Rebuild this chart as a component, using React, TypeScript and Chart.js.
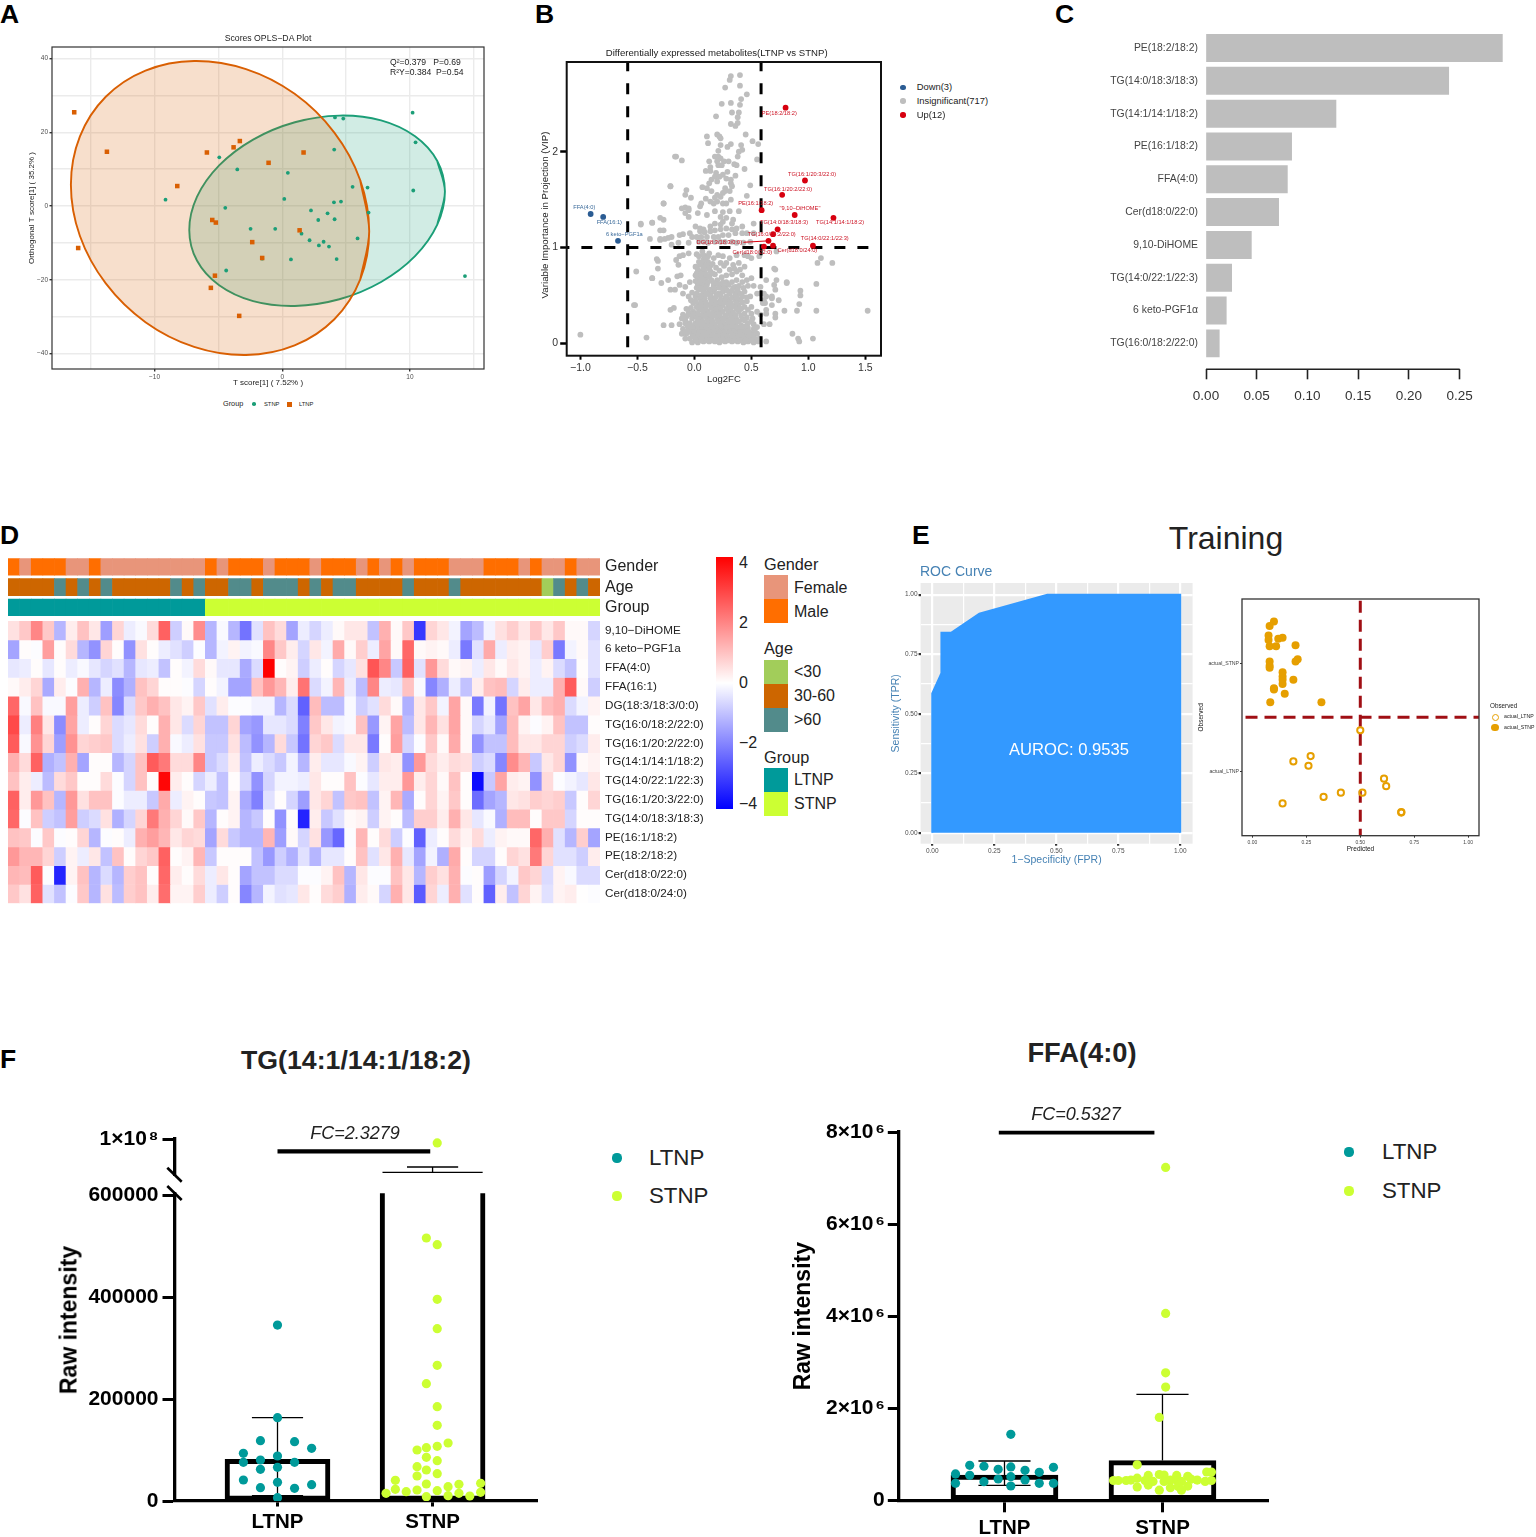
import React, { useEffect, useRef } from "react";
import { Chart, registerables } from "chart.js";

Chart.register(...registerables);
Chart.defaults.font.family = "'Liberation Sans', Arial, sans-serif";

type P = [number, number];
const xy = (a: P[]) => a.map(([x, y]) => ({ x, y }));

/* ---------- Panel A ---------- */
const A_STNP: P[] = [[10.21,25.3],[10.44,17.25],[4.13,24.0],[4.78,23.7],[4.07,15.3],[-4.93,13.2],[-3.52,9.9],[0.44,9.0],[-9.14,1.7],[5.51,5.2],[6.68,5.0],[10.26,4.2],[0.16,1.9],[4.05,1.0],[4.6,1.2],[-4.46,-0.5],[2.25,-1.2],[3.55,-2.0],[6.76,-1.8],[2.82,-3.8],[4.1,-3.6],[-2.48,-6.2],[-0.55,-6.2],[1.51,-7.5],[5.9,-8.8],[2.14,-9.3],[3.24,-9.7],[2.87,-10.7],[3.66,-11.0],[-1.57,-14.3],[0.68,-14.5],[4.26,-14.4],[-4.39,-17.5],[14.31,-19.0]];
const A_LTNP: P[] = [[-16.29,25.4],[-13.73,14.7],[-3.32,17.6],[-3.81,15.9],[-5.9,14.5],[1.67,14.5],[-1.07,11.7],[-8.22,5.4],[-5.48,-3.8],[-5.2,-4.5],[1.36,-6.6],[-2.35,-9.8],[-15.98,-11.4],[-1.57,-14.1],[-5.27,-18.9],[-5.59,-22.2],[-3.37,-29.8]];
const A_LTNP_ELLIPSE: P[] = [[6.11,-19.9],[6.81,-6.85],[6.11,6.98],[4.08,19.9],[.97,30.4],[-2.84,37.1],[-6.9,39.3],[-10.71,36.7],[-13.82,29.6],[-15.85,18.8],[-16.55,5.75],[-15.85,-8.08],[-13.82,-21.0],[-10.71,-31.5],[-6.9,-38.2],[-2.84,-40.4],[.97,-37.8],[4.08,-30.7],[6.11,-19.9],[6.81,-6.85],[6.11,6.98]];
const A_STNP_ELLIPSE: P[] = [[12.14,-5.07],[12.74,3.89],[12.14,12.2],[10.4,18.9],[7.74,23.2],[4.47,24.5],[.99,22.7],[-2.28,18.0],[-4.94,11.0],[-6.68,2.47],[-7.28,-6.49],[-6.68,-14.8],[-4.94,-21.5],[-2.28,-25.8],[.99,-27.1],[4.47,-25.3],[7.74,-20.6],[10.4,-13.6],[12.14,-5.07],[12.74,3.89],[12.14,12.2]];
const A_X_TICKS = [-15,-10,-5,0,5,10,15];
const A_Y_TICKS = [-40,-30,-20,-10,0,10,20,30,40];

/* ---------- Panel B ---------- */
const B_GREY: P[] = [
[.40,2.80],[.32,2.79],[.31,2.75],[.40,2.69],[.27,2.67],[.46,2.60],[.41,2.55],[.24,2.50],[.32,2.51],[.40,2.49],[.39,2.41],[.33,2.41],[.19,2.37],[.38,2.36],[.38,2.30],[.32,2.29],[.36,2.27],[.45,2.18],[.11,2.16],[.20,2.18],[.22,2.16],[.23,2.14],[.12,2.09],[.23,2.07],[.51,2.11],[.56,2.08],[.32,2.08],[.29,2.05],[.41,2.07],[.42,2.02],[.39,2.00],[.21,2.01],[.38,1.95],[-.16,1.95],[-.11,1.91],[.18,1.95],[.21,1.95],[.23,1.93],[.55,1.92],[.13,1.90],[.20,1.90],[.26,1.90],[.30,1.90],[.35,1.87],[.37,1.86],[.21,1.86],[.14,1.84],[.44,1.82],[.10,1.80],[.14,1.80],[.24,1.86],[.19,1.78],[.29,1.79],[.25,1.76],[.36,1.75],[.18,1.74],[.22,1.74],[.15,1.71],[.20,1.69],[.28,1.72],[.32,1.71],[.13,1.67],[-.21,1.64],[.49,1.65],[.07,1.63],[.11,1.62],[.27,1.62],[.32,1.67],[.33,1.64],[-.07,1.60],[.15,1.59],[.27,1.59],[.31,1.59],[-.08,1.55],[-.03,1.52],[.10,1.51],[.20,1.55],[.25,1.57],[.46,1.54],[.18,1.52],[.23,1.53],[.06,1.46],[.14,1.48],[.20,1.48],[.32,1.50],[.17,1.46],[-.27,1.46],[.25,1.46],[.28,1.46],[.05,1.43],[-.08,1.42],[-.05,1.41],
[-.11,1.41],[-.05,1.39],[-.08,1.36],[-.05,1.32],[.03,1.36],[.18,1.38],[.25,1.37],[.31,1.38],[.39,1.38],[.11,1.34],[.23,1.32],[.28,1.31],[.34,1.29],[-.47,1.25],[-.37,1.26],[-.27,1.29],[-.30,1.18],[.52,1.25],[.33,1.25],[.25,1.27],[.23,1.24],[.18,1.25],[.14,1.22],[.08,1.19],[.05,1.20],[.01,1.22],[.05,1.17],[.09,1.16],[.14,1.17],[.18,1.18],[.23,1.19],[.28,1.20],[.33,1.19],[.37,1.20],[.42,1.22],[.46,1.15],[.52,1.15],[-.04,1.15],[-.10,1.14],[-.13,1.13],[-.20,1.11],[-.23,1.10],[-.26,1.09],[-.30,1.09],[-.39,1.09],[-.02,1.11],[.02,1.11],[.06,1.11],[.11,1.11],[.17,1.11],[.21,1.11],[.25,1.13],[.30,1.13],[.36,1.15],[.42,1.15],[.04,1.06],[.08,1.06],[.12,1.05],[.18,1.06],[.23,1.06],[.27,1.06],[.33,1.06],[-.2,1.03],[-.14,1.05],[-.05,1.05],[.37,1.05],[.43,1.05],[.49,1.06],
[-.33,.88],[-.32,.86],[-.13,.91],[-.16,.87],[-.10,.92],[-.14,.82],[-.05,.94],[.04,.91],[.08,.92],[.12,.91],[.04,.85],[.08,.87],[.12,.85],[.17,.89],[.05,.82],[.09,.82],[.14,.81],[.01,.80],[.21,.92],[.25,.91],[.31,.89],[.37,.92],[.44,.92],[.23,.84],[.28,.84],[.34,.82],[.39,.84],[.44,.80],[.50,.89],[.57,.91],[.70,.78],[.47,.91],[-.32,.78],
[-.15,.70],[-.23,.66],[-.29,.63],[-.37,.68],[-.12,.71],[-.13,.61],[-.08,.59],[-.04,.64],[.01,.71],[.05,.75],[.09,.75],[.14,.75],[.18,.72],[.03,.68],[.07,.68],[.11,.69],[.15,.66],[.20,.66],[.24,.69],[.28,.71],[.33,.72],[.37,.75],[.42,.71],[.28,.64],[.33,.64],[.37,.66],[.42,.64],[.46,.66],[.50,.68],[.03,.61],[.07,.61],[.11,.61],[.17,.60],[.23,.61],[.27,.59],[.36,.59],[.52,.60],[.58,.59],[.63,.66],[.70,.61],[.81,.64],
[-.21,.56],[-.17,.56],[-.10,.52],[-.05,.49],[.04,.56],[.08,.54],[.12,.53],[.17,.54],[.21,.52],[.25,.54],[.31,.52],[.36,.52],[.40,.52],[.44,.54],[.49,.49],[.46,.44],[.58,.52],[.63,.49],[.61,.45],[.68,.47],[.01,.49],[.05,.47],[.09,.47],[.14,.47],[.18,.47],[.23,.45],[.27,.47],[.31,.45],[.36,.45],[.40,.46],[-.01,.42],[.04,.41],[.08,.40],[.12,.40],[.17,.40],[.21,.40],[.25,.40],[.30,.40],[.34,.39],[.39,.40],[.44,.38],[.50,.38],[-.18,.37],[-.21,.35],[-.52,.40],[.60,.42],[.68,.40],
[-.05,.32],[-.10,.30],[-.01,.33],[.04,.35],[.08,.33],[.12,.33],[.17,.33],[.21,.33],[.25,.33],[.30,.32],[.34,.32],[.39,.33],[.44,.31],[.50,.31],[.55,.33],[.63,.31],[.71,.31],
[-.11,.26],[-.07,.28],[-.02,.26],[.02,.28],[.06,.27],[.11,.26],[.15,.27],[.20,.26],[.24,.26],[.28,.26],[.33,.26],[.37,.25],[.42,.25],[.58,.30],[-.13,.20],[-.08,.21],[-.04,.21],[.01,.21],[.05,.20],[.09,.20],[.14,.20],[.18,.20],[.23,.20],[.27,.20],[.31,.20],[.36,.20],[.41,.19],[.47,.21],[.52,.20],[.61,.20],[-.27,.19],[-.20,.19],
[-.10,.15],[-.05,.15],[-.01,.15],[.04,.15],[.08,.15],[.12,.15],[.17,.15],[.21,.15],[.25,.15],[.30,.15],[.34,.15],[.39,.14],[.43,.14],[.47,.16],[.52,.15],
[-.11,.10],[-.07,.10],[-.02,.10],[.02,.10],[.06,.10],[.11,.10],[.15,.10],[.20,.10],[.24,.10],[.28,.10],[.33,.10],[.37,.10],[.42,.10],[.46,.10],[.50,.10],[.55,.10],[-.42,.06],
[-.08,.05],[-.04,.05],[.01,.05],[.05,.05],[.09,.05],[.14,.05],[.18,.05],[.23,.05],[.27,.05],[.31,.05],[.36,.05],[.40,.05],[.44,.05],[.49,.05],[.53,.05],[.57,.05],
[-.02,.01],[.03,.01],[.08,.02],[.13,.02],[.18,.02],[.22,.01],[.27,.02],[.33,.02],[.38,.02],[.43,.01],[.47,.02],[.52,.01],[.56,.02],
[-1.0,.09],[-.53,.40],[-.51,.75],[-.37,.68],[-.47,1.24],[-.37,1.26],[-.30,1.31],[-.27,1.46],[-.21,1.64],[-.17,1.95],[-.27,1.18],[-.30,1.08],
[1.52,.34],[1.07,.34],[1.04,.05],[1.08,.84],[1.21,.84],[1.11,.89],[1.07,.62],[.93,.55],[.93,.50],[.92,.41],[.90,.34],[.79,.34],[.71,.27],[.66,.20],[.63,.02],[.86,.10],[.91,.05],[.92,.02],[.81,.63],[.71,.77],[.72,.66],[.72,.96],[.71,.56],[.61,.52],[.68,.49],[.74,.45],[.63,.35],[.62,.42],[.55,.52],
[.02,.93],[.07,.96],[.10,.89],[.13,.94],[.06,.84],[.11,.80],[.03,.77],[.08,.78],[.13,.78],[.16,.83],[.02,.73],[.06,.72],[.10,.72],[.13,.70],[.16,.73],[.19,.79],[.22,.76],[.26,.81],[.31,.77],[.35,.78],[.40,.77],[.01,.65],[.05,.64],[.09,.65],[.12,.64],[.17,.63],[.21,.62],[.25,.64],[.30,.61],[.34,.58],[.39,.60],[.43,.58],[.47,.60],[.02,.58],[.06,.57],[.10,.58],[.14,.56],[.18,.57],[.22,.58],[.26,.57],[.29,.55],[.33,.55],[.38,.56],[.42,.49],[-.02,.53],[.02,.52],[.06,.50],[.10,.51],[.14,.50],[.19,.49],[.23,.50],[.28,.49],[.33,.48],[.37,.48],[.46,.48],[-.03,.45],[.01,.44],[.06,.43],[.10,.43],[.15,.43],[.19,.43],[.23,.42],[.27,.43],[.32,.42],[.37,.42],[.42,.43],[-.07,.36],[-.03,.37],[.02,.38],[.06,.37],[.10,.36],[.15,.37],[.19,.36],[.23,.37],[.28,.36],[.32,.36],[.37,.36],[.41,.36],[.47,.35],[-.08,.24],[-.05,.30],[-.01,.30],[.03,.31],[.07,.30],[.10,.29],[.14,.30],[.18,.29],[.22,.30],[.27,.29],[.32,.29],[.36,.29],[.41,.29],[.46,.27],[.51,.26],[-.06,.18],[-.02,.18],[.03,.24],[.07,.23],[.12,.23],[.16,.23],[.21,.23],[.25,.23],[.30,.23],[.34,.23],[.39,.23],[.44,.24],[.50,.23],[.03,.17],[.07,.17],[.10,.18],[.15,.17],[.19,.17],[.23,.18],[.28,.17],[.33,.18],[.37,.17],[.41,.17],[.45,.18],[.55,.17],[-.08,.12],[-.03,.12],[.00,.12],[.04,.12],[.08,.12],[.13,.12],[.17,.13],[.22,.12],[.26,.12],[.31,.12],[.35,.12],[.40,.12],[.44,.12],[.48,.12],[.53,.13],[-.01,.07],[.03,.07],[.07,.08],[.12,.07],[.16,.08],[.20,.07],[.25,.08],[.29,.07],[.34,.08],[.38,.07],[.42,.08],[.47,.07],[.51,.08],[.02,.03],[.06,.03],[.11,.03],[.15,.03],[.20,.03],[.25,.03],[.30,.03],[.35,.03],[.40,.03],[.45,.03],[.50,.03]
];
const B_UP: P[] = [[.80,2.46],[.97,1.70],[.77,1.55],[.59,1.39],[.88,1.34],[1.22,1.31],[.73,1.19],[.69,1.14],[.65,1.07],[1.04,1.02],[.69,1.02],[.61,1.01]];
const B_DOWN: P[] = [[-.91,1.35],[-.80,1.32],[-.67,1.07]];
const B_DG_LEADER: P[] = [[.43,1.055],[.65,1.07]];
const B_FC_CUT = 0.585;
const B_VIP_CUT = 1;
const B_X_TICKS = [-1,-.5,0,.5,1,1.5];
const B_Y_TICKS = [0,1,2];
const B_UP_LABELS: [string, number, number][] = [
  ["PE(18:2/18:2)",779.3,113.7],["TG(16:1/20:3/22:0)",812,175],["TG(16:1/20:2/22:0)",788,189.7],["PE(16:1/18:2)",755.7,203.7],
  ["\"9,10−DiHOME\"",800,209.3],["TG(14:0/18:3/18:3)",784,223.3],["TG(14:1/14:1/18:2)",840,223.3],["TG(16:0/18:2/22:0)",771.7,234.7],
  ["TG(14:0/22:1/22:3)",824.7,239.3],["DG(18:3/18:3/0:0)",719.3,243],["Cer(d18:0/22:0)",752.3,252.7],["Cer(d18:0/24:0)",797.3,251]];
const B_DOWN_LABELS: [string, number, number][] = [["FFA(4:0)",584.3,207.7],["FFA(16:1)",609.3,223.3],["6 keto−PGF1a",624.3,234.7]];

/* ---------- Panel C ---------- */
const C_NAMES = ["PE(18:2/18:2)","TG(14:0/18:3/18:3)","TG(14:1/14:1/18:2)","PE(16:1/18:2)","FFA(4:0)","Cer(d18:0/22:0)","9,10-DiHOME","TG(14:0/22:1/22:3)","6 keto-PGF1α","TG(16:0/18:2/22:0)"];
const C_VALUES = [.2924,.2392,.1281,.0844,.0802,.0716,.0447,.0253,.02,.0131];
const C_X_TICKS = [0,.05,.1,.15,.2,.25];

/* ---------- Panel D ---------- */
const D_ROWS = ["9,10−DiHOME","6 keto−PGF1a","FFA(4:0)","FFA(16:1)","DG(18:3/18:3/0:0)","TG(16:0/18:2/22:0)","TG(16:1/20:2/22:0)","TG(14:1/14:1/18:2)","TG(14:0/22:1/22:3)","TG(16:1/20:3/22:0)","TG(14:0/18:3/18:3)","PE(16:1/18:2)","PE(18:2/18:2)","Cer(d18:0/22:0)","Cer(d18:0/24:0)"];
const D_GENDER = "MFMMMFFMFFFFFFFFFMFMMMFMMMFMMMFMFMFMMMFFFMMMFMFFMFF".split("");
const D_AGE = "OOOOTOTOTOOOOOTOTOOTTOTTTOTOTTOOOOTOOOTOOOOOOOYTOTO".split("");
const D_GROUP = "LLLLLLLLLLLLLLLLLSSSSSSSSSSSSSSSSSSSSSSSSSSSSSSSSSS".split("");
const D_TRACK_NAMES = ["Gender","Age","Group"];
const D_HEAT: number[][] = [
[.5,.9,2,.9,-1.2,.3,1,.4,-1.6,.7,-.3,-.1,.6,2.6,-.8,.1,1.9,-1.2,-.1,-1.2,-2.3,-.5,1,.6,-1.5,-.3,-.7,-.3,.1,.4,.4,-1,1.3,.1,.9,-3.3,.7,.4,-.2,-1.5,-1.1,-.2,.5,.8,.4,.9,.4,.9,.1,.1,-.7],
[-1.5,.05,-.05,1.6,.05,.6,-1.2,-1.8,.7,.05,-1.8,.5,.05,-.3,-.5,-.8,-.05,-1.2,-.2,.2,-.2,-.1,2,.9,.3,-.7,.4,-.2,1.4,.1,.8,-.3,1.5,.1,2.5,.1,.2,.1,-.3,-2.2,-.5,1.4,-.3,.3,.2,-.4,.8,-2.2,-.2,.1,-.5],
[-.4,-.3,.05,-.4,.05,-.3,-.1,-.4,-.7,-.5,-1.2,-.4,-.3,-1,.05,-.2,.6,.1,-.4,-.4,-1.4,-.6,4.2,.05,.2,-.8,-.3,.05,-.7,-.4,.5,2.8,2,-.9,2.6,-.5,1.7,.6,.1,.2,-.3,.4,.1,.4,.2,-.3,.2,-.6,-1,.05,-.5],
[.1,.3,.7,-1.4,.3,-.05,1.3,-1.2,-.3,-1.9,-1.3,1,.7,.05,.05,-.05,-.7,.05,-.2,-1.5,-1.5,1,1.7,1.2,.3,2.3,-.6,-.2,1.2,-.3,-1.1,2,-.3,-.4,1,-.1,-2,-1.3,-.3,-1,.3,1,1.1,-.7,.3,-.3,-.3,1.3,2.7,.1,-.8],
[2.5,-.1,1,-.1,-.1,1.6,-.3,-.8,1,-2,-.6,.9,1.3,1,.4,.2,.9,-.5,.3,-.05,-.05,-.2,-.2,-1.2,-.6,-2.6,1.1,-1.1,-1.1,-.1,-.8,-.5,.6,.1,-1.3,.4,.9,-.2,1.5,.1,-2.2,-.2,-2.3,1,1.5,.4,1.1,1.3,-.6,-.2,.2],
[3,-.3,2.1,.4,-1.9,1.5,-.3,.05,.7,-.6,-.4,.6,.05,1.3,.4,-.6,.7,-1,-1,.7,-1.5,-1.7,-.4,-.4,-.6,-2.1,.9,.4,-.2,-.1,1,-1.7,.2,1.5,-1.1,.4,1.2,.5,1.5,.1,-.7,-.4,-1.5,1.1,.2,-.05,.2,1,-1,-1,.05],
[2.7,-.1,1.8,.7,-1.6,1.8,.7,.8,.9,-.6,-.3,.5,-.8,1.3,-.1,-.3,.5,-.9,-.9,.5,-1.1,-1.8,-1.2,.6,-.9,-2.3,.7,.9,-.6,.4,.4,-2.2,.05,1.6,-.7,-.05,.9,.1,1.4,.1,-1.8,-1,-1,1.1,.4,.4,.7,.7,-.8,-.6,.3],
[1.3,.6,2.6,-1.3,-1,1.3,-1.5,.05,.05,-1.2,-.7,1,2.7,2.2,.6,.6,2,-.9,-.6,.3,-1,-.3,-.6,-.9,-.2,-1.2,.3,-.4,-.4,-.1,.2,-.8,.4,.3,-1.8,1.7,.6,.3,.6,.5,-.8,-.6,-2,1.9,1.2,-.9,.4,.7,-1.8,.1,.2],
[1,.3,-.3,-1.1,.6,.9,.05,.05,.6,-.05,-.7,1,.05,4.1,.3,.05,-.7,-.3,-1,.05,-.7,-1.8,-.7,-.2,-.2,-.3,.4,.05,.05,1,-.05,-.4,.3,.3,1.7,.3,.7,.1,1,.05,-4,-.9,1.5,.3,.2,-1.8,.6,-.05,-.2,-.4,.4],
[2.6,.3,1.7,1,-1.2,1.7,.5,1,1,-.05,-.3,-.3,-.9,1.4,-.3,.2,.05,-.9,-1,.2,-1.4,-2.1,-.5,.05,-.7,-1.6,.4,.7,-1,.9,1,-1,.2,1.2,-1.4,.05,.7,.2,.9,.05,-2.4,-1.5,-1.2,.4,.5,.8,.7,.8,-.9,.05,.7],
[2.5,-.05,1,-.8,-1,1.6,-.8,-.6,.5,-1.3,-.7,.7,2.2,1.3,.7,.1,.9,-1.2,.05,.2,-1.2,-.9,.05,-1.8,.05,-3.6,.3,-.9,-.5,.1,.2,-.8,.2,.05,-1.1,.8,.8,.3,1.3,.4,-.4,-.1,-1.3,1.1,1.1,.05,.9,.9,-.7,.05,.05],
[1,.9,-.05,.9,-.05,.05,.7,-1.2,-.05,.05,-.3,1.3,1.6,1.2,.4,.7,.6,-1.5,.6,-.9,-1.2,-1.2,1.2,-1.6,.1,-.7,.5,-1.7,-2.5,-.05,1.2,.05,.6,-.8,-.05,-2.6,-.3,.05,.6,.2,.6,-.3,.2,.1,.1,2.5,1.3,-.5,-1.2,.8,-1.5],
[1.7,1.2,1.2,.7,-.8,.2,-.3,.4,-1,1,.05,.7,.9,2.6,.05,.2,1.2,-.9,.05,.05,.05,-1,-1.7,-.8,-1.3,-.5,-1.2,-.4,-.4,.05,1,-.5,.4,1.3,-.4,-1.5,-.2,-1.3,1.4,.05,-.7,-.7,.05,.7,.5,2.2,.7,-.5,-.5,-.8,.3],
[1.2,1.1,2.7,-.05,-3.6,.2,1,-1.2,-.6,-1.2,.8,1,.05,2.5,.3,.05,.6,-.3,.4,.05,-1.5,-1,-1,-.6,-.6,-.05,-.05,.2,1,-1.2,.4,-.05,-.05,1,.4,-1.2,.8,.5,1.3,-.05,.05,-1.6,-.7,-.2,.9,.7,-.6,.2,-.1,-.6,-.6],
[.9,.5,2.6,-.5,-1,-.05,.9,-1.2,.5,-1.1,.8,1,.3,2.4,.2,.2,.8,-.3,-.8,.05,-2,-1.2,-.2,-.5,-.4,.4,.05,.6,.8,-1.3,.3,.1,-.7,1.3,.4,-2.7,.7,-.3,1.3,-.5,.05,-2.6,.3,-1,.7,.2,-.5,.2,.3,.02,-.05],
];

/* ---------- Panel E ---------- */
const E_ROC: P[] = [[0,0],[0,.585],[.037,.67],[.037,.84],[.076,.84],[.19,.92],[.464,1],[1,1],[1,0]];
const E_MAJOR = [0,.25,.5,.75,1];
const E_GRID = [0,.125,.25,.375,.5,.625,.75,.875,1];
const E_STNP: P[] = [[.10,2.39],[.08,2.35],[.075,2.26],[.075,2.22],[.12,2.23],[.14,2.24],[.08,2.16],[.11,2.16],[.20,2.17],[.08,2.02],[.08,1.98],[.08,1.96],[.21,2.04],[.20,2.02],[.14,1.92],[.14,1.88],[.14,1.85],[.14,1.81],[.19,1.85],[.10,1.77],[.10,1.76],[.15,1.72],[.083,1.64],[.32,1.64]];
const E_LTNP: P[] = [[.50,1.38],[.27,1.14],[.19,1.09],[.26,1.05],[.61,.93],[.62,.86],[.51,.80],[.41,.80],[.33,.76],[.14,.70],[.69,.62],[.69,.615]];
const E_CATS = ["", "actual_LTNP", "actual_STNP"];

/* ---------- Panel F ---------- */
const F1_LTNP: P[] = [[1,345600],[1,163700],[.89,118500],[1.11,116500],[1.22,103400],[.78,93600],[1,88400],[.89,80500],[.78,75900],[1.11,75900],[.89,62200],[1,66100],[.78,41200],[1,36700],[1.22,32100],[.89,26200],[1.11,24900],[1,6500]];
const F1_STNP: P[] = [[1.96,516500],[2.03,503400],[2.03,396000],[2.03,338400],[2.03,266400],[1.96,230400],[2.03,185300],[2.03,148600],[2.10,113900],[1.90,100200],[1.96,104700],[2.03,107400],[1.96,85800],[2.03,79200],[1.90,67400],[1.96,60900],[2.03,53700],[1.90,49100],[1.76,40600],[1.96,33400],[2.17,32700],[2.31,34700],[2.10,28100],[1.76,22900],[1.90,21600],[1.83,18300],[2.03,20300],[1.70,15100],[2.17,15100],[2.31,17000],[1.96,8500],[2.10,10500],[2.24,9800]];
const F1_STNP_HIGH: P[] = [[2.03,8.9e7]];
const F1_MEANS = [81900, 7.5e6];
const F1_LTNP_ERR = [10500, 163700];
const F1_STNP_ERR_HIGH = 2.22e7;
const F1_SIG = 6.58e7;
const F1_Y_TICKS = [0,200000,400000,600000];
const F2_LTNP: P[] = [[1.04,1.434e6],[.78,.76e6],[.87,.74e6],[1.04,.724e6],[1.31,.717e6],[.96,.673e6],[1.13,.652e6],[1.22,.608e6],[.69,.572e6],[.78,.543e6],[1.04,.514e6],[.96,.463e6],[1.13,.442e6],[.87,.405e6],[.69,.369e6],[1.22,.369e6],[1.31,.369e6],[1.04,.311e6]];
const F2_STNP: P[] = [[2.02,7.23e6],[2.02,4.06e6],[2.02,2.77e6],[2.02,2.46e6],[1.98,1.80e6],[1.84,.77e6],[2.28,.615e6],[2.31,.615e6],[1.91,.54e6],[1.98,.56e6],[2.01,.55e6],[2.09,.54e6],[2.16,.52e6],[1.69,.43e6],[1.72,.43e6],[1.77,.43e6],[1.80,.44e6],[1.84,.48e6],[1.89,.43e6],[1.94,.41e6],[2.01,.41e6],[2.05,.44e6],[2.09,.43e6],[2.12,.41e6],[2.18,.46e6],[2.22,.44e6],[2.27,.41e6],[2.31,.43e6],[1.84,.29e6],[1.91,.33e6],[2.05,.275e6],[2.10,.30e6],[2.16,.31e6],[1.98,.22e6],[2.12,.22e6]];
const F2_MEANS = [.55e6, .862e6];
const F2_LTNP_ERR = [.326e6, .854e6];
const F2_STNP_ERR_HIGH = 2.30e6;
const F2_SIG = 7.985e6;
const F2_Y_TICKS = [0,2e6,4e6,6e6,8e6];
const F_GROUPS = ["LTNP","STNP"];

/* ---------- colours ---------- */
const TEAL = "#009a9a";
const LIME = "#ccff33";
const C_MALE = "#ff6e00";
const C_FEMALE = "#e8957a";
const C_YOUNG = "#a2cd5a";
const C_MID = "#cd6600";
const C_OLD = "#528b8b";
const STEEL = "#4682b4";
const AMBER = "#e69f00";

const heatColor = (v: number) => {
  const t = Math.min(1, Math.abs(v) / 4.2);
  const c = Math.round(255 * (1 - t));
  return v >= 0 ? `rgb(255,${c},${c})` : `rgb(${c},${c},255)`;
};

/* ---------- helpers ---------- */
const framePlugin = {
  id: "frame",
  beforeDraw(c: any, _a: any, o: any) {
    if (!o.bg) return;
    const { left, top, width, height } = c.chartArea;
    c.ctx.fillStyle = o.bg;
    c.ctx.fillRect(left, top, width, height);
  },
  afterDatasetsDraw(c: any, _a: any, o: any) {
    if (!o.color) return;
    const { left, top, width, height } = c.chartArea;
    c.ctx.save();
    c.ctx.strokeStyle = o.color;
    c.ctx.lineWidth = o.width || 1;
    c.ctx.strokeRect(left, top, width, height);
    c.ctx.restore();
  },
};
Chart.register(framePlugin as any);

type Box = { x: number; y: number; w: number; h: number };
type Area = { l: number; t: number; r: number; b: number };

const ticksAt = (vals: number[]) => (s: any) => { s.ticks = vals.map((value) => ({ value })); };
const tk = (o: any) => ({ autoSkip: false, maxRotation: 0, minRotation: 0, ...o });
const hiddenX = (o: any = {}) => ({ display: false, ...o });

function opts(box: Box, a: Area, scales: any, frame: any = {}, rightAxis = false) {
  const xShown = scales.x && scales.x.display !== false;
  const fit = (wh: any) => (s: any) => {
    if (wh.w != null) s.width = wh.w;
    if (wh.h != null) s.height = wh.h;
    s.paddingLeft = s.paddingRight = s.paddingTop = s.paddingBottom = 0;
  };
  const sc: any = { ...scales };
  if (xShown) sc.x = { ...sc.x, afterFit: fit({ h: box.y + box.h - a.b }) };
  sc.y = { ...sc.y, afterFit: fit({ w: rightAxis ? box.x + box.w - a.r : a.l - box.x }) };
  return {
    responsive: false,
    maintainAspectRatio: false,
    animation: false,
    events: [],
    layout: {
      padding: {
        left: rightAxis ? a.l - box.x : 0,
        top: a.t - box.y,
        right: rightAxis ? 0 : box.x + box.w - a.r,
        bottom: xShown ? 0 : box.y + box.h - a.b,
      },
    },
    plugins: { legend: { display: false }, title: { display: false }, tooltip: { enabled: false }, frame },
    scales: sc,
  };
}

const dots = (data: P[], color: string, r: number, extra: any = {}) => ({
  type: "scatter", data: xy(data), backgroundColor: color, borderColor: color, borderWidth: 0, pointRadius: r, ...extra,
});
const line = (data: P[], color: string, width: number, extra: any = {}) => ({
  type: "scatter", data: xy(data), showLine: true, pointRadius: 0, borderColor: color, borderWidth: width, fill: false, ...extra,
});

function Plot({ box, make }: { box: Box; make: () => any }) {
  const ref = useRef<HTMLCanvasElement>(null);
  useEffect(() => {
    const c = new Chart(ref.current as any, make());
    return () => c.destroy();
  }, []);
  return <canvas ref={ref} width={box.w} height={box.h} style={{ position: "absolute", left: box.x, top: box.y }} />;
}

function T({ x, y, s, c = "#000", b, i, a = "c", r, children }: any) {
  const tx = a === "c" ? "-50%" : a === "r" ? "-100%" : "0";
  return (
    <div style={{
      position: "absolute", left: x, top: y, fontSize: s, color: c, fontWeight: b ? "bold" : "normal", fontStyle: i ? "italic" : "normal",
      lineHeight: 1, whiteSpace: "pre", transform: `translate(${tx},-50%)${r ? ` rotate(${r}deg)` : ""}`,
    }}>{children}</div>
  );
}
const Dot = ({ x, y, d, c, style }: any) => (
  <div style={{ position: "absolute", left: x - d / 2, top: y - d / 2, width: d, height: d, borderRadius: "50%", background: c, boxSizing: "border-box", ...style }} />
);
const Swatch = ({ x, y, w, h, c }: any) => <div style={{ position: "absolute", left: x, top: y, width: w, height: h, background: c }} />;

/* ---------- chart configs ---------- */
const boxA: Box = { x: 27, y: 40, w: 465, h: 348 };
const areaA: Area = { l: 52, t: 47, r: 484, b: 369 };
const makeA = () => ({
  type: "scatter",
  data: {
    datasets: [
      dots(A_LTNP, "#d95f02", 3.2, { pointStyle: "rect" }),
      dots(A_STNP, "#1b9e77", 1.9),
      line(A_LTNP_ELLIPSE, "#d95f02", 1.9, { tension: 0.34, fill: "shape", backgroundColor: "rgba(217,95,2,0.2)" }),
      line(A_STNP_ELLIPSE, "#1b9e77", 1.9, { tension: 0.34, fill: "shape", backgroundColor: "rgba(27,158,119,0.2)" }),
    ],
  },
  options: opts(boxA, areaA, {
    x: {
      type: "linear", min: -18.03, max: 15.8, afterBuildTicks: ticksAt(A_X_TICKS), border: { display: false },
      grid: { color: "#ebebeb", lineWidth: 1.4, tickLength: 2.5, tickColor: (c: any) => (c.tick && c.tick.value % 10 === 0 ? "#333" : "transparent") },
      ticks: tk({ font: { size: 6.5 }, color: "#4d4d4d", padding: 1.5, callback: (v: number) => (v % 10 === 0 ? (v < 0 ? "−" + -v : "" + v) : "") }),
      title: { display: true, text: "T score[1] ( 7.52% )", font: { size: 8 }, color: "#222", padding: 0 },
    },
    y: {
      type: "linear", min: -44.2, max: 43.1, afterBuildTicks: ticksAt(A_Y_TICKS), border: { display: false },
      grid: { color: "#ebebeb", lineWidth: 1.4, tickLength: 2.5, tickColor: (c: any) => (c.tick && c.tick.value % 20 === 0 ? "#333" : "transparent") },
      ticks: tk({ font: { size: 6.5 }, color: "#4d4d4d", padding: 1.5, callback: (v: number) => (v % 20 === 0 ? (v < 0 ? "−" + -v : "" + v) : "") }),
      title: { display: true, text: "Orthogonal T score[1] ( 35.2% )", font: { size: 8 }, color: "#222", padding: 0 },
    },
  }, { color: "#333", width: 1.2 }),
});

const boxB: Box = { x: 540, y: 50, w: 350, h: 335 };
const areaB: Area = { l: 566.7, t: 62, r: 881, b: 355.7 };
const makeB = () => {
  const dash = { borderDash: [11, 12] };
  return {
    type: "scatter",
    data: {
      datasets: [
        dots(B_UP, "#d7000f", 2.9),
        dots(B_DOWN, "#2b5c93", 2.9),
        line(B_DG_LEADER, "#d7000f", 1),
        line([[-B_FC_CUT, -1], [-B_FC_CUT, 4]], "#000", 3, dash),
        line([[B_FC_CUT, -1], [B_FC_CUT, 4]], "#000", 3, dash),
        line([[-2, B_VIP_CUT], [3, B_VIP_CUT]], "#000", 3, dash),
        dots(B_GREY, "#bebebe", 2.9),
      ],
    },
    options: opts(boxB, areaB, {
      x: {
        type: "linear", min: -1.12, max: 1.637, afterBuildTicks: ticksAt(B_X_TICKS), border: { display: false },
        grid: { drawOnChartArea: false, tickLength: 4, tickColor: "#000", tickWidth: 2 },
        ticks: tk({ font: { size: 10.5 }, color: "#333", padding: 2, callback: (v: number) => (v < 0 ? "−" + (-v).toFixed(1) : v.toFixed(1)) }),
        title: { display: true, text: "Log2FC", font: { size: 9.5 }, color: "#222", padding: 0 },
      },
      y: {
        type: "linear", min: -0.129, max: 2.937, afterBuildTicks: ticksAt(B_Y_TICKS), border: { display: false },
        grid: { drawOnChartArea: false, tickLength: 6.5, tickColor: "#000", tickWidth: 2.5 },
        ticks: tk({ font: { size: 10.5 }, color: "#333", padding: 2 }),
      },
    }, { color: "#111", width: 2 }),
  };
};

const boxC: Box = { x: 1090, y: 25, w: 420, h: 385 };
const areaC: Area = { l: 1206, t: 31.6, r: 1502.7, b: 369.3 };
const makeC = () => ({
  type: "bar",
  data: {
    datasets: [
      line([[0, 9.79], [.25, 9.79]], "#222", 1.6, { clip: false }),
      { type: "bar", indexAxis: "y", data: C_VALUES.map((x, y) => ({ x, y })), backgroundColor: "#bebebe", barThickness: 27.3 },
    ],
  },
  options: opts(boxC, areaC, {
    x: {
      type: "linear", offset: false, min: 0, max: .2924, afterBuildTicks: ticksAt(C_X_TICKS), border: { display: false },
      grid: { offset: false, drawOnChartArea: false, tickLength: 10, tickColor: "#222", tickWidth: 1.6 },
      ticks: tk({ font: { size: 13.5 }, color: "#333", padding: 9, callback: (v: number) => v.toFixed(2) }),
    },
    y: {
      type: "linear", offset: false, reverse: true, min: -.5, max: 9.79, afterBuildTicks: ticksAt(C_VALUES.map((_, i) => i)), border: { display: false },
      grid: { offset: false, display: false, drawTicks: false },
      ticks: tk({ font: { size: 10.4 }, color: "#444", padding: 8, callback: (v: number) => C_NAMES[v] }),
    },
  }),
});

const boxTrack: Box = { x: 8, y: 552, w: 700, h: 70 };
const areaTrack: Area = { l: 8, t: 558.3, r: 600, b: 616 };
const colGender = (k: string) => (k === "M" ? C_MALE : C_FEMALE);
const colAge = (k: string) => (k === "O" ? C_MID : k === "T" ? C_OLD : C_YOUNG);
const colGroup = (k: string) => (k === "L" ? TEAL : LIME);
const trackDs = (codes: string[], lo: number, col: (k: string) => string) => ({
  data: codes.map(() => [lo, lo + 1]), backgroundColor: codes.map(col), barPercentage: 1, categoryPercentage: 1, grouped: false,
});
const makeTrack = () => ({
  type: "bar",
  data: {
    labels: D_GENDER.map((_, i) => i + 1),
    datasets: [trackDs(D_GENDER, 0, colGender), trackDs(D_AGE, 1.2, colAge), trackDs(D_GROUP, 2.4, colGroup)],
  },
  options: opts(boxTrack, areaTrack, {
    x: hiddenX(),
    y: {
      position: "right", type: "linear", reverse: true, min: 0, max: 3.4, afterBuildTicks: ticksAt([.5, 1.7, 2.9]), border: { display: false },
      grid: { display: false, drawTicks: false },
      ticks: tk({ font: { size: 16 }, color: "#222", padding: 5, callback: (v: number) => D_TRACK_NAMES[Math.floor(v / 1.2)] }),
    },
  }, {}, true),
});

const boxHeat: Box = { x: 8, y: 615, w: 700, h: 295 };
const areaHeat: Area = { l: 8, t: 621, r: 600, b: 903.3 };
const makeHeat = () => ({
  type: "bar",
  data: {
    labels: D_HEAT[0].map((_, i) => i + 1),
    datasets: D_HEAT.map((row, r) => ({
      data: row.map(() => [r, r + 1]), backgroundColor: row.map(heatColor), barPercentage: 1, categoryPercentage: 1, grouped: false,
    })),
  },
  options: opts(boxHeat, areaHeat, {
    x: hiddenX(),
    y: {
      position: "right", type: "linear", reverse: true, min: 0, max: 15, afterBuildTicks: ticksAt(D_ROWS.map((_, i) => i + .5)), border: { display: false },
      grid: { display: false, drawTicks: false },
      ticks: tk({ font: { size: 11.7 }, color: "#222", padding: 5, callback: (v: number) => D_ROWS[Math.floor(v)] }),
    },
  }, {}, true),
});

const isMajor = (v: number) => Math.abs(v / .25 - Math.round(v / .25)) < .01;
const boxRoc: Box = { x: 890, y: 575, w: 310, h: 291.3 };
const areaRoc: Area = { l: 920.6, t: 583, r: 1192.6, b: 844 };
const rocGrid = {
  color: "#fff",
  lineWidth: (c: any) => (c.tick && isMajor(c.tick.value) ? 2.2 : 1.2),
  tickLength: 2,
  tickColor: (c: any) => (c.tick && isMajor(c.tick.value) ? "#333" : "transparent"),
};
const makeRoc = () => ({
  type: "scatter",
  data: { datasets: [line(E_ROC, "#3399ff", 2, { fill: "shape", backgroundColor: "#3399ff" })] },
  options: opts(boxRoc, areaRoc, {
    x: {
      type: "linear", min: -.047, max: 1.05, afterBuildTicks: ticksAt(E_GRID), border: { display: false }, grid: rocGrid,
      ticks: tk({ font: { size: 6.5 }, color: "#4d4d4d", padding: 1.5, callback: (v: number) => (isMajor(v) ? v.toFixed(2) : "") }),
      title: { display: true, text: "1−Specificity (FPR)", font: { size: 10.5 }, color: STEEL, padding: 0 },
    },
    y: {
      type: "linear", min: -.046, max: 1.049, afterBuildTicks: ticksAt(E_GRID), border: { display: false }, grid: rocGrid,
      ticks: tk({ font: { size: 6.5 }, color: "#4d4d4d", padding: 1, callback: (v: number) => (isMajor(v) ? v.toFixed(2) : "") }),
      title: { display: true, text: "Sensitivity (TPR)", font: { size: 10.5 }, color: STEEL, padding: 0 },
    },
  }, { bg: "#ebebeb" }),
});

const boxPred: Box = { x: 1197, y: 590, w: 288, h: 263 };
const areaPred: Area = { l: 1242, t: 599, r: 1479.6, b: 835.7 };
const makePred = () => {
  const dash = { borderDash: [12, 7] };
  return {
    type: "scatter",
    data: {
      datasets: [
        dots(E_STNP, AMBER, 4),
        dots(E_LTNP, "rgba(0,0,0,0)", 3.1, { borderColor: AMBER, borderWidth: 2 }),
        line([[.5, 0], [.5, 3]], "#a00f14", 3, dash),
        line([[-1, 1.5], [2, 1.5]], "#a00f14", 3, dash),
      ],
    },
    options: opts(boxPred, areaPred, {
      x: {
        type: "linear", min: -.048, max: 1.05, afterBuildTicks: ticksAt(E_MAJOR), border: { display: false },
        grid: { drawOnChartArea: false, tickLength: 2, tickColor: "#333" },
        ticks: tk({ font: { size: 5 }, color: "#444", padding: 2, callback: (v: number) => v.toFixed(2) }),
        title: { display: true, text: "Predicted", font: { size: 6.5 }, color: "#111", padding: 0 },
      },
      y: {
        type: "linear", min: .4, max: 2.6, afterBuildTicks: ticksAt([1, 2]), border: { display: false },
        grid: { drawOnChartArea: false, tickLength: 2, tickColor: "#333" },
        ticks: tk({ font: { size: 5.2 }, color: "#444", padding: 1, callback: (v: number) => E_CATS[v] }),
        title: { display: true, text: "Observed", font: { size: 6.5 }, color: "#111", padding: 0 },
      },
    }, { color: "#333", width: 1.3 }),
  };
};

const CAP = 0.165;
const gap: P = [NaN, NaN];
const errPath = (c: number, lo: number, hi: number): P[] => [[c - CAP, hi], [c + CAP, hi], gap, [c, hi], [c, lo], gap, [c - CAP, lo], [c + CAP, lo]];
const barDs = (means: number[], thick: number) => ({
  type: "bar", data: means.map((y, i) => ({ x: i + 1, y })), backgroundColor: "rgba(0,0,0,0)", borderColor: "#000", borderWidth: 4.4, borderSkipped: false, barThickness: thick,
});
const axisBold = (size: number) => ({ family: "'Liberation Sans', Arial, sans-serif", size, weight: "bold" });

const boxF1: Box = { x: 70, y: 1180, w: 472, h: 357 };
const areaF1: Area = { l: 175, t: 1193.3, r: 538, b: 1501 };
const makeF1 = () => ({
  type: "bar",
  data: {
    datasets: [
      dots(F1_LTNP, TEAL, 4.6),
      dots(F1_STNP, LIME, 4.6),
      line(errPath(1, F1_LTNP_ERR[0], F1_LTNP_ERR[1]), "#000", 1.3),
      barDs([F1_MEANS[0], 1e6], 105),
    ],
  },
  options: opts(boxF1, areaF1, {
    x: {
      type: "linear", offset: false, min: .339, max: 2.676, afterBuildTicks: ticksAt([1, 2]), border: { display: true, color: "#000", width: 3.3 },
      grid: { offset: false, drawOnChartArea: false, tickLength: 5.5, tickColor: "#000", tickWidth: 3 },
      ticks: tk({ font: axisBold(20.5), color: "#000", padding: 4, callback: (v: number) => F_GROUPS[v - 1] }),
    },
    y: {
      type: "linear", min: 0, max: 604300, afterBuildTicks: ticksAt(F1_Y_TICKS), border: { display: true, color: "#000", width: 3.3 },
      grid: { drawOnChartArea: false, tickLength: 12.5, tickColor: "#000", tickWidth: 3 },
      ticks: tk({ font: axisBold(21), color: "#000", padding: 4, callback: (v: number) => String(v) }),
    },
  }),
});

const boxF1Top: Box = { x: 70, y: 1122, w: 472, h: 58 };
const areaF1Top: Area = { l: 175, t: 1139, r: 538, b: 1175 };
const makeF1Top = () => ({
  type: "scatter",
  data: {
    datasets: [
      dots(F1_STNP_HIGH, LIME, 4.6, { clip: false }),
      line([[1, F1_SIG], [1.985, F1_SIG]], "#000", 4.2, { clip: false }),
      line([[2 - .323, F1_MEANS[1]], [2 + .323, F1_MEANS[1]]], "#000", 1.2, { clip: false }),
      line([[2, F1_MEANS[1]], [2, F1_STNP_ERR_HIGH], gap, [2 - CAP, F1_STNP_ERR_HIGH], [2 + CAP, F1_STNP_ERR_HIGH]], "#000", 1.3, { clip: false }),
    ],
  },
  options: opts(boxF1Top, areaF1Top, {
    x: hiddenX({ type: "linear", min: .339, max: 2.676 }),
    y: {
      type: "linear", min: 0, max: 1e8, afterBuildTicks: ticksAt([1e8]), border: { display: true, color: "#000", width: 3.3 },
      grid: { drawOnChartArea: false, tickLength: 12.5, tickColor: "#000", tickWidth: 3 },
      ticks: tk({ font: axisBold(21), color: "#000", padding: 4, callback: () => "1×10\u200A⁸" }),
    },
  }),
});

const boxF2: Box = { x: 789.5, y: 1118, w: 486, h: 419 };
const areaF2: Area = { l: 898.3, t: 1132, r: 1268.3, b: 1500.3 };
const makeF2 = () => ({
  type: "bar",
  data: {
    datasets: [
      dots(F2_LTNP, TEAL, 4.6),
      dots(F2_STNP, LIME, 4.6),
      line([[.964, F2_SIG], [1.949, F2_SIG]], "#000", 3.8, { clip: false }),
      line(errPath(1, F2_LTNP_ERR[0], F2_LTNP_ERR[1]), "#000", 1.3),
      line([[2, F2_MEANS[1]], [2, F2_STNP_ERR_HIGH], gap, [2 - CAP, F2_STNP_ERR_HIGH], [2 + CAP, F2_STNP_ERR_HIGH]], "#000", 1.3),
      barDs(F2_MEANS, 107),
    ],
  },
  options: opts(boxF2, areaF2, {
    x: {
      type: "linear", offset: false, min: .331, max: 2.673, afterBuildTicks: ticksAt([1, 2]), border: { display: true, color: "#000", width: 3.3 },
      grid: { offset: false, drawOnChartArea: false, tickLength: 12, tickColor: "#000", tickWidth: 3 },
      ticks: tk({ font: axisBold(20.5), color: "#000", padding: 4, callback: (v: number) => F_GROUPS[v - 1] }),
    },
    y: {
      type: "linear", min: 0, max: 8e6, afterBuildTicks: ticksAt(F2_Y_TICKS), border: { display: true, color: "#000", width: 3.3 },
      grid: { drawOnChartArea: false, tickLength: 11, tickColor: "#000", tickWidth: 3 },
      ticks: tk({ font: axisBold(21), color: "#000", padding: 3, callback: (v: number) => (v === 0 ? "0" : `${v / 1e6}×10\u200A⁶`) }),
      title: { display: true, text: "Raw intensity", font: axisBold(23), color: "#000", padding: 0 },
    },
  }),
});

/* ---------- page ---------- */
export default function App() {
  return (
    <div style={{ position: "absolute", left: 0, top: 0, width: 1536, height: 1537, background: "#fff", overflow: "hidden", fontFamily: "'Liberation Sans', Arial, sans-serif" }}>
      <Plot box={boxA} make={makeA} />
      <Plot box={boxB} make={makeB} />
      <Plot box={boxC} make={makeC} />
      <Plot box={boxTrack} make={makeTrack} />
      <Plot box={boxHeat} make={makeHeat} />
      <Plot box={boxRoc} make={makeRoc} />
      <Plot box={boxPred} make={makePred} />
      <Plot box={boxF1} make={makeF1} />
      <Plot box={boxF1Top} make={makeF1Top} />
      <Plot box={boxF2} make={makeF2} />

      {/* panel letters */}
      <T x={0} y={14} s={26.5} b a="l">A</T>
      <T x={535} y={14} s={26.5} b a="l">B</T>
      <T x={1055} y={14} s={26.5} b a="l">C</T>
      <T x={0} y={535} s={26.5} b a="l">D</T>
      <T x={912} y={535} s={26.5} b a="l">E</T>
      <T x={0} y={1059} s={26.5} b a="l">F</T>

      {/* A */}
      <T x={268} y={38} s={8.7} c="#222">Scores OPLS−DA Plot</T>
      <T x={390} y={62} s={8.6} c="#222" a="l">{"Q²=0.379   P=0.69"}</T>
      <T x={390} y={72} s={8.6} c="#222" a="l">{"R²Y=0.384  P=0.54"}</T>
      <T x={223} y={404} s={7.3} c="#222" a="l">Group</T>
      <Dot x={254} y={404} d={3.6} c="#1b9e77" />
      <T x={264} y={404.5} s={5.8} c="#222" a="l">STNP</T>
      <Swatch x={287} y={402} w={4.6} h={4.6} c="#d95f02" />
      <T x={299} y={404.5} s={5.8} c="#222" a="l">LTNP</T>

      {/* B */}
      <T x={716.7} y={53} s={9.6} c="#222">Differentially expressed metabolites(LTNP vs STNP)</T>
      <T x={545} y={215} s={9.7} c="#222" r={-90}>Variable Importance in Projection (VIP)</T>
      {B_UP_LABELS.map(([t, x, y]) => <T key={t} x={x} y={y} s={5.7} c="#cc1122">{t}</T>)}
      {B_DOWN_LABELS.map(([t, x, y]) => <T key={t} x={x} y={y} s={5.7} c="#3a6a9a">{t}</T>)}
      <Dot x={903} y={87.3} d={5.4} c="#2b5c93" />
      <Dot x={903} y={101} d={5.4} c="#bebebe" />
      <Dot x={903} y={115} d={5.4} c="#d7000f" />
      <T x={916.7} y={87.3} s={9.4} c="#222" a="l">Down(3)</T>
      <T x={916.7} y={101} s={9.4} c="#222" a="l">Insignificant(717)</T>
      <T x={916.7} y={115} s={9.4} c="#222" a="l">Up(12)</T>

      {/* D legends */}
      <div style={{ position: "absolute", left: 716, top: 557.3, width: 17, height: 252, background: "linear-gradient(#ff0000,#ffffff 50%,#0000ff)" }} />
      <T x={739} y={563} s={16} c="#222" a="l">4</T>
      <T x={739} y={623} s={16} c="#222" a="l">2</T>
      <T x={739} y={683} s={16} c="#222" a="l">0</T>
      <T x={739} y={743} s={16} c="#222" a="l">−2</T>
      <T x={739} y={804} s={16} c="#222" a="l">−4</T>
      <T x={764} y={564} s={16.3} c="#222" a="l">Gender</T>
      <Swatch x={764} y={575.3} w={24.3} h={24} c={C_FEMALE} />
      <Swatch x={764} y={599.3} w={24.3} h={24} c={C_MALE} />
      <T x={794} y={588} s={16} c="#222" a="l">Female</T>
      <T x={794} y={612} s={16} c="#222" a="l">Male</T>
      <T x={764} y={648.3} s={16.3} c="#222" a="l">Age</T>
      <Swatch x={764} y={660} w={24.3} h={24} c={C_YOUNG} />
      <Swatch x={764} y={684} w={24.3} h={24} c={C_MID} />
      <Swatch x={764} y={708} w={24.3} h={24} c={C_OLD} />
      <T x={794} y={672} s={16} c="#222" a="l">{"<30"}</T>
      <T x={794} y={696} s={16} c="#222" a="l">30-60</T>
      <T x={794} y={720} s={16} c="#222" a="l">{">60"}</T>
      <T x={764} y={756.7} s={16.3} c="#222" a="l">Group</T>
      <Swatch x={764} y={768.3} w={24.3} h={24} c={TEAL} />
      <Swatch x={764} y={792.3} w={24.3} h={24} c={LIME} />
      <T x={794} y={780} s={16} c="#222" a="l">LTNP</T>
      <T x={794} y={804} s={16} c="#222" a="l">STNP</T>

      {/* E */}
      <T x={1226} y={538} s={32} c="#222">Training</T>
      <T x={920} y={571} s={14} c={STEEL} a="l">ROC Curve</T>
      <T x={1069} y={750} s={16.6} c="#fff">AUROC: 0.9535</T>
      <T x={1490} y={705.5} s={6.3} c="#222" a="l">Observed</T>
      <Dot x={1495} y={717} d={7} c="transparent" style={{ border: `1.8px solid ${AMBER}` }} />
      <Dot x={1495} y={727.5} d={7.4} c={AMBER} />
      <T x={1504} y={717} s={5.2} c="#222" a="l">actual_LTNP</T>
      <T x={1504} y={727.5} s={5.2} c="#222" a="l">actual_STNP</T>

      {/* F */}
      <T x={356} y={1060} s={26.7} b c="#222">TG(14:1/14:1/18:2)</T>
      <T x={1082} y={1053} s={27.3} b c="#222">FFA(4:0)</T>
      <T x={355} y={1133} s={18} i c="#222">FC=2.3279</T>
      <T x={1076} y={1114} s={18} i c="#222">FC=0.5327</T>
      <T x={69.3} y={1320} s={23} b r={-90}>Raw intensity</T>
      <svg width={30} height={50} style={{ position: "absolute", left: 160, top: 1160 }}>
        <line x1={7.3} y1={7.7} x2={21.7} y2={21.7} stroke="#000" strokeWidth={2.6} />
        <line x1={7.3} y1={26} x2={21.7} y2={40} stroke="#000" strokeWidth={2.6} />
      </svg>
      <Dot x={617} y={1158} d={9.2} c={TEAL} />
      <Dot x={617} y={1196} d={9.2} c={LIME} />
      <T x={649} y={1158} s={22.3} c="#222" a="l">LTNP</T>
      <T x={649} y={1196} s={22.3} c="#222" a="l">STNP</T>
      <Dot x={1349} y={1152} d={9.2} c={TEAL} />
      <Dot x={1349} y={1191} d={9.2} c={LIME} />
      <T x={1382} y={1152} s={22.3} c="#222" a="l">LTNP</T>
      <T x={1382} y={1191} s={22.3} c="#222" a="l">STNP</T>
    </div>
  );
}
